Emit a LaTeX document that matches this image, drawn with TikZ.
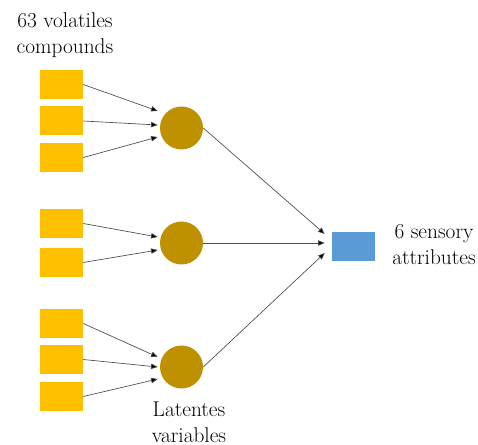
\documentclass[tikz,border=0pt]{standalone}
\usetikzlibrary{calc,arrows.meta}
\definecolor{cmpcol}{HTML}{FFC000}
\definecolor{latcol}{HTML}{BF9000}
\definecolor{attcol}{HTML}{5B9BD5}

\begin{document}
\begin{tikzpicture}[x=0.75pt,y=-0.75pt,cmp/.style={rectangle,fill=cmpcol,minimum width=32.25pt,minimum height=21.75pt,inner sep=0pt},lat/.style={circle,fill=latcol,minimum size=32.25pt,inner sep=0pt},att/.style={rectangle,fill=attcol,minimum width=32.25pt,minimum height=21.75pt,inner sep=0pt},arr/.style={-{Triangle[length=5pt,width=4pt,fill=black]},draw=black!70,line width=0.5pt},lbl/.style={align=center,font=\fontsize{16}{19.5}\selectfont,inner sep=0pt}]
\useasboundingbox (0,0) rectangle (478,445);
% latent variables and sensory block
\node[lat] (lv1) at (181.5,128) {};
\node[lat] (lv2) at (181.5,243) {};
\node[lat] (lv3) at (181.5,367) {};
\node[att] (sa) at (353.5,246.5) {};
% compounds, group by group
\foreach \i/\y/\d in %
{1/84.5/-17,2/121/-3,3/157.5/9} {
   \node[cmp] (a\i) at (61.5,\y) {};
   \draw[arr] (a\i.east) -- ($(lv1.west)+(-2,\d)$);
}
\foreach \i/\y/\d in %
{1/223.5/-6,2/262.5/7} {
   \node[cmp] (b\i) at (61.5,\y) {};
   \draw[arr] (b\i.east) -- ($(lv2.west)+(-2,\d)$);
}
\foreach \i/\y/\d in %
{1/323.5/-10,2/359.5/0,3/396.5/12} {
   \node[cmp] (c\i) at (61.5,\y) {};
   \draw[arr] (c\i.east) -- ($(lv3.west)+(-2,\d)$);
}
\foreach \i/\d in %
{1/-12.5,2/-3.5,3/6.5} {
   \draw[arr] (lv\i.east) -- ($(sa.west)+(-7,\d)$);
}
% labels
\node[lbl] (tcmp) at (65,35) {63 volatiles\\compounds};
\node[lbl] (tatt) at (434,245) {6 sensory\\attributes};
\node[lbl] (tlat) at (189,422) {Latentes\\variables};
\end{tikzpicture}
\end{document}
